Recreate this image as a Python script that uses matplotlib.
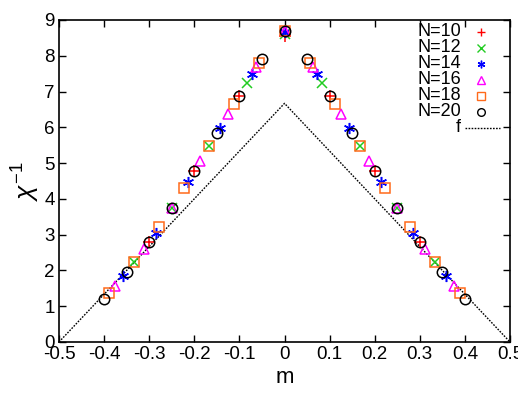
import matplotlib
matplotlib.use("Agg")
import matplotlib.pyplot as plt
import numpy as np

plt.rcParams['font.family'] = ['Liberation Sans', 'DejaVu Sans']
plt.rcParams['mathtext.fontset'] = 'custom'
plt.rcParams['mathtext.rm'] = 'Liberation Sans'
plt.rcParams['mathtext.it'] = 'Liberation Sans:italic'

# chi^-1 gegen m (m = k/N, symmetrisch um 0)
sizes = [10, 12, 14, 16, 18, 20]
chi10 = [8.55, 6.87, 4.77, 2.80]
chi12 = [8.60, 7.25, 5.47, 3.75, 2.24]
chi14 = [8.66, 7.50, 5.99, 4.48, 3.06, 1.84]
chi16 = [8.70, 7.69, 6.36, 5.06, 3.75, 2.59, 1.56]
chi18 = [8.70, 7.80, 6.64, 5.47, 4.31, 3.22, 2.24, 1.36]
chi20 = [8.70, 7.91, 6.87, 5.83, 4.77, 3.75, 2.80, 1.95, 1.20]
chi_all = [chi10, chi12, chi14, chi16, chi18, chi20]

# Kurve f
f_m = [-0.5, 0.0, 0.5]
f_y = [0.0, 6.67, 0.0]

labels = ["N=10", "N=12", "N=14", "N=16", "N=18", "N=20"]
markers = ['+', 'x', (6, 2, 0), '^', 's', 'o']
colors = ['#ff0000', '#22cc22', '#0000ff', '#ff00ff', '#ff6a1a', '#000000']
msizes = [8, 7, 8, 7, 7, 7.5]

fig = plt.figure(figsize=(5.18, 3.96), dpi=100)
ax = fig.add_axes([59/518, 54/396, 451/518, 322/396])

ax.plot(f_m, f_y, color='k', lw=1.0, ls=(0, (1.2, 1.0)))

for N, chi, mk, c, ms in zip(sizes, chi_all, markers, colors, msizes):
    k = np.arange(len(chi))
    m = np.concatenate([-k[::-1] / N, k[1:] / N])
    y = np.concatenate([chi[::-1], chi[1:]])
    filled = mk in ['+', 'x', (6, 2, 0)]
    ax.plot(m, y, ls='none', marker=mk, ms=ms, mew=1.1,
            mec=c, mfc=c if filled else 'none', clip_on=False)

ax.set_xlim(-0.5, 0.5)
ax.set_ylim(0, 9)
ax.set_xticks(np.round(np.arange(-0.5, 0.51, 0.1), 1))
ax.set_xticklabels(["-0.5", "-0.4", "-0.3", "-0.2", "-0.1", "0",
                    "0.1", "0.2", "0.3", "0.4", "0.5"])
ax.set_yticks(range(10))
ax.tick_params(direction='in', top=True, right=True, length=5, width=1,
               labelsize=13.5, pad=3)
ax.tick_params(axis='x', pad=3)
for s in ax.spines.values():
    s.set_linewidth(1.2)

ax.set_xlabel("m", fontsize=16, labelpad=3)
ax.set_ylabel(r"$\chi^{\mathrm{-1}}$", fontsize=19, labelpad=2)

# Legende wie bei gnuplot: Text rechtsbuendig, Symbol rechts daneben
tx, mx = 0.891, 0.936
y0, dy = 0.963, 0.0497
for i, (lab, mk, c) in enumerate(zip(labels, markers, colors)):
    yy = y0 - i * dy
    ax.text(tx, yy, lab, transform=ax.transAxes, ha='right', va='center',
            fontsize=13)
    filled = mk in ['+', 'x', (6, 2, 0)]
    ax.plot([mx], [yy], transform=ax.transAxes, ls='none', marker=mk,
            ms=5.5, mew=1.0, mec=c, mfc=c if filled else 'none', clip_on=False)
yy = y0 - 6 * dy
ax.text(tx, yy, "f", transform=ax.transAxes, ha='right', va='center',
        fontsize=13)
ax.plot([0.90, 0.978], [yy, yy], transform=ax.transAxes, color='k', lw=1.0,
        ls=(0, (1.2, 1.0)))

fig.savefig("out.png", dpi=100)
